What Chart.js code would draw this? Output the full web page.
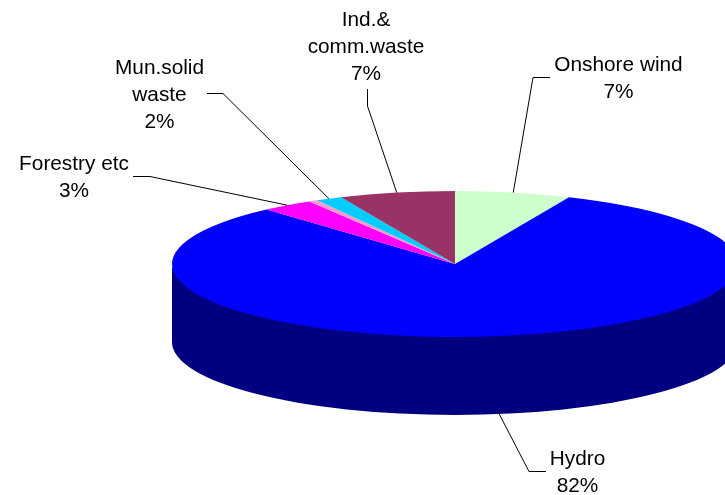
<!DOCTYPE html>
<html>
<head>
<meta charset="utf-8">
<title>Renewable generation by source</title>
<script src="https://cdn.jsdelivr.net/npm/chart.js@4/dist/chart.umd.min.js"></script>
<style>
  html, body { margin: 0; padding: 0; background: #fff; overflow: hidden; }
  canvas { display: block; }
</style>
</head>
<body>
<canvas id="pie" width="725" height="495"></canvas>
<script>
// Data, clockwise from the top of the pie
const categories = ["Onshore wind", "Hydro", "Forestry etc", "Other", "Mun.solid waste", "Ind.&comm.waste"];
const shares = [6.6, 81.8, 3.0, 0.5, 1.5, 6.6];
const labelLines = [["Onshore wind"], ["Hydro"], ["Forestry etc"], [], ["Mun.solid", "waste"], ["Ind.&", "comm.waste"]];

const topColors = ["#CCFFCC", "#0000FF", "#FF00FF", "#FF99CC", "#00CCFF", "#993366"];
const sideColors = ["#669966", "#000080", "#800080", "#996680", "#006680", "#4D1A33"];

// Label centre x, first baseline y, and the leader's elbow points
const labelLayout = [
  { x: 618.5, y: 71, elbow: [[533, 77.5], [550, 77.5]] },
  { x: 577.5, y: 465, elbow: [[529, 471.5], [546, 471.5]] },
  { x: 74, y: 170, elbow: [[150, 176.5], [133, 176.5]] },
  null,
  { x: 159.5, y: 74, elbow: [[223, 93.5], [207, 93.5]] },
  { x: 366, y: 26, elbow: [[367.5, 106], [367.5, 89]] },
];

const SQUASH = 73 / 283; // Flattening of the disc
const DEPTH = 78; // Height of the disc wall
const LINE_HEIGHT = 27;

// Draws the wall of the disc under the slices
const drawWall = (ctx, arc, color) => {
  const from = Math.max(arc.startAngle, 0);
  const to = Math.min(arc.endAngle, Math.PI);
  if (from >= to) return;
  const rx = arc.outerRadius;
  const ry = rx * SQUASH;
  ctx.beginPath();
  ctx.ellipse(arc.x, arc.y - 1, rx, ry, 0, from, to);
  ctx.ellipse(arc.x, arc.y + DEPTH, rx, ry, 0, to, from, true);
  ctx.closePath();
  ctx.fillStyle = color;
  ctx.fill();
};

const pie3d = {
  id: "pie3d",
  beforeDatasetDraw(chart) {
    const { ctx } = chart;
    const arcs = chart.getDatasetMeta(0).data;
    arcs.forEach((arc, i) => drawWall(ctx, arc, sideColors[i]));
    // Slices are drawn by the library, inside the flattened space
    ctx.save();
    ctx.translate(arcs[0].x, arcs[0].y);
    ctx.scale(1, SQUASH);
    ctx.translate(-arcs[0].x, -arcs[0].y);
  },
  afterDatasetDraw(chart) {
    chart.ctx.restore();
  },
  afterDraw(chart) {
    const { ctx } = chart;
    chart.getDatasetMeta(0).data.forEach((arc, i) => {
      const layout = labelLayout[i];
      if (!layout) return;

      // Leader starts on the rim at the slice's middle
      const mid = (arc.startAngle + arc.endAngle) / 2;
      const rimX = arc.x + arc.outerRadius * Math.cos(mid);
      let rimY = arc.y + arc.outerRadius * SQUASH * Math.sin(mid);
      if (Math.sin(mid) > 0) rimY += DEPTH;

      ctx.beginPath();
      ctx.moveTo(rimX, rimY);
      layout.elbow.forEach(([x, y]) => ctx.lineTo(x, y));
      ctx.strokeStyle = "#000";
      ctx.lineWidth = 1;
      ctx.stroke();

      const lines = [...labelLines[i], Math.round(shares[i]) + "%"];
      ctx.fillStyle = "#000";
      ctx.font = '20.8px "Liberation Sans", Arial, sans-serif';
      ctx.textAlign = "center";
      ctx.textBaseline = "alphabetic";
      lines.forEach((text, n) => ctx.fillText(text, layout.x, layout.y + n * LINE_HEIGHT));
    });
  },
};

new Chart(document.getElementById("pie"), {
  type: "pie",
  data: {
    labels: categories,
    datasets: [
      {
        data: shares,
        backgroundColor: topColors,
        borderWidth: 0,
        clip: false,
      },
    ],
  },
  options: {
    responsive: false,
    animation: false,
    radius: 283,
    layout: { padding: { left: 185, top: 33 } },
    plugins: {
      legend: { display: false },
      tooltip: { enabled: false },
    },
  },
  plugins: [pie3d],
});
</script>
</body>
</html>
